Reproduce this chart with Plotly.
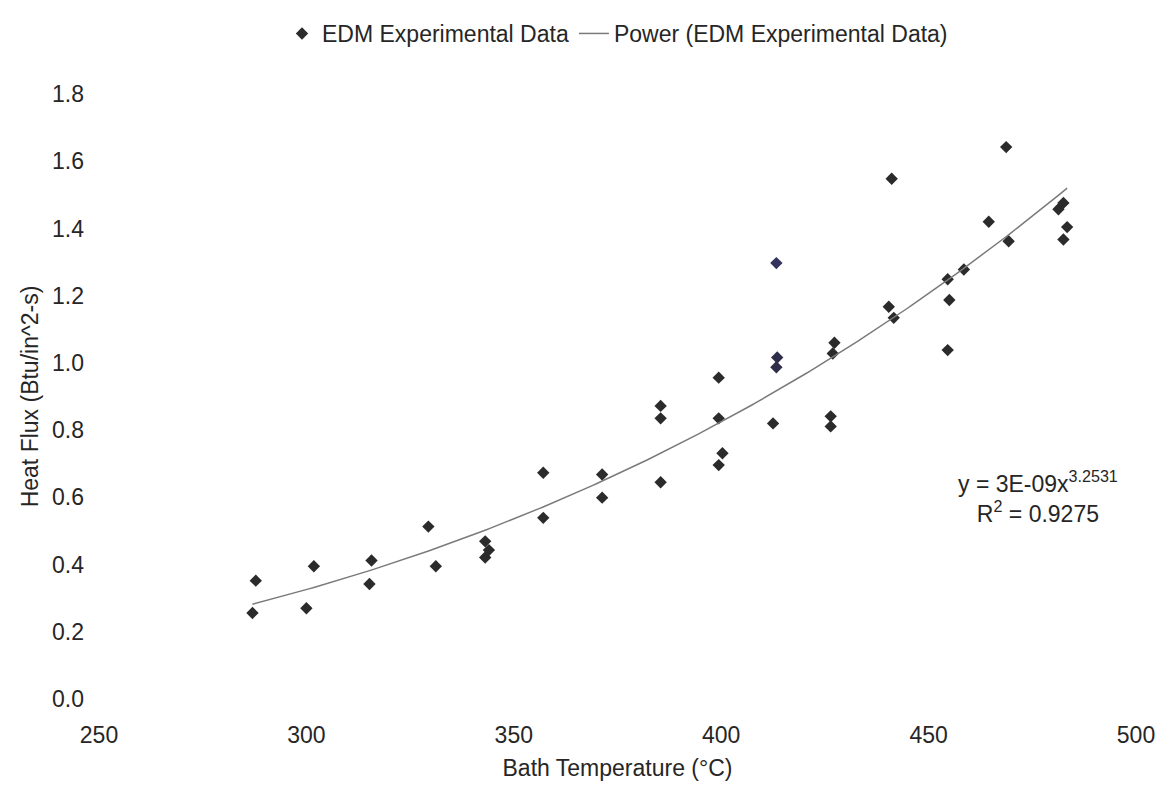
import numpy as np
import plotly.graph_objects as go

# Bath temperature (°C) and measured heat flux (Btu/in^2-s)
bath_temp_c = [287.0, 287.8, 300.0, 301.8, 315.2, 315.7, 329.4, 331.2, 343.1, 344.0,
               343.1, 357.1, 357.1, 371.3, 371.3, 385.4, 385.4, 385.4, 399.4, 399.4,
               400.3, 399.4, 413.3, 413.5, 413.3, 412.5, 427.3, 426.9, 426.4, 426.4,
               440.4, 441.6, 441.1, 454.6, 455.0, 454.6, 458.5, 464.5, 469.3, 468.7,
               481.3, 482.5, 483.4, 482.5]
heat_flux = [0.256, 0.352, 0.270, 0.395, 0.342, 0.412, 0.513, 0.395, 0.469, 0.443,
             0.421, 0.673, 0.539, 0.668, 0.599, 0.872, 0.835, 0.645, 0.956, 0.835,
             0.731, 0.696, 1.297, 1.016, 0.987, 0.820, 1.060, 1.028, 0.841, 0.811,
             1.167, 1.134, 1.548, 1.249, 1.187, 1.038, 1.278, 1.420, 1.362, 1.642,
             1.457, 1.476, 1.404, 1.367]

x_ticks = [250, 300, 350, 400, 450, 500]
y_ticks = [0.0, 0.2, 0.4, 0.6, 0.8, 1.0, 1.2, 1.4, 1.6, 1.8]

equation_text = "y = 3E-09x<sup>3.2531</sup>"
r2_text = "R<sup>2</sup> = 0.9275"

# Power-law trendline fitted in log-log space (y = a * x^b)
xs = np.array(bath_temp_c)
ys = np.array(heat_flux)
b, log_a = np.polyfit(np.log(xs), np.log(ys), 1)
x_fit = np.linspace(xs.min(), xs.max(), 200)
y_fit = np.exp(log_a) * x_fit ** b

FONT = "Liberation Sans, Arial, sans-serif"
TEXT = "#262626"
SIZE = 23

# the three readings taken at ~413 °C print with a slight navy tint
marker_colors = ["#2b2b2b"] * len(bath_temp_c)
marker_colors[22] = "#33335e"
marker_colors[23] = "#2e2e4a"
marker_colors[24] = "#2e2e4a"

fig = go.Figure()
fig.add_trace(go.Scatter(
    x=bath_temp_c, y=heat_flux, mode="markers",
    name="EDM Experimental Data",
    marker=dict(symbol="diamond", size=9.5, color=marker_colors,
                line=dict(width=0)),
))
fig.add_trace(go.Scatter(
    x=x_fit, y=y_fit, mode="lines",
    name="Power (EDM Experimental Data)",
    line=dict(color="#7a7a7a", width=1.5),
))

fig.add_annotation(
    x=476.4, y=0.60, xref="x", yref="y",
    text=equation_text + "<br>" + r2_text,
    showarrow=False, align="center",
    font=dict(family=FONT, size=SIZE, color=TEXT),
)

fig.update_layout(
    width=1167, height=788,
    paper_bgcolor="white", plot_bgcolor="white",
    margin=dict(l=99, r=29, t=74, b=89),
    font=dict(family=FONT, size=SIZE, color=TEXT),
    showlegend=True,
    legend=dict(orientation="h", x=0.5, xanchor="center", y=1.1, yanchor="middle",
                font=dict(family=FONT, size=SIZE, color=TEXT),
                itemwidth=30, tracegroupgap=0),
)
fig.update_xaxes(
    range=[250, 500], tickvals=x_ticks, ticktext=[str(v) for v in x_ticks],
    showgrid=False, zeroline=False, showline=False, ticks="",
    ticklabelstandoff=20,
    title=dict(text="Bath Temperature (°C)", standoff=12,
               font=dict(family=FONT, size=SIZE, color=TEXT)),
)
fig.update_yaxes(
    range=[0, 1.8], tickvals=y_ticks, ticktext=[f"{v:.1f}" for v in y_ticks],
    showgrid=False, zeroline=False, showline=False, ticks="",
    ticklabelstandoff=14,
    title=dict(text="Heat Flux (Btu/in^2-s)", standoff=6,
               font=dict(family=FONT, size=SIZE, color=TEXT)),
)

fig.write_html("out.html")
